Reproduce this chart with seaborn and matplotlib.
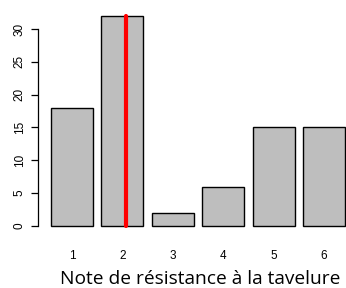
import matplotlib
matplotlib.use("Agg")
import matplotlib.pyplot as plt
import seaborn as sns
import pandas as pd

notes = ["1", "2", "3", "4", "5", "6"]
counts = [18, 32, 2, 6, 15, 15]
highlight_note = "2"
y_ticks = [0, 5, 10, 15, 20, 25, 30]
x_label = "Note de résistance à la tavelure"

sns.set_style("white", {"ytick.left": True, "axes.labelcolor": "black",
                        "text.color": "black", "xtick.color": "black",
                        "ytick.color": "black"})
plt.rcParams["font.family"] = ["Liberation Sans", "DejaVu Sans"]

df = pd.DataFrame({"note": notes, "count": counts})

W, H = 346, 288
fig = plt.figure(figsize=(W / 100, H / 100), dpi=100)
ax_left, ax_bottom_px, ax_top_px = 38, 240, 0
ax = fig.add_axes([ax_left / W, (H - ax_bottom_px) / H, 1 - ax_left / W, (ax_bottom_px - ax_top_px) / H])

sns.barplot(data=df, x="note", y="count", order=notes, color="#BEBEBE",
            saturation=1, width=1 / 1.2, edgecolor="black", linewidth=1.0, ax=ax)

# axis limits (pixel-based mapping)
pitch, c0, zero_px, px_per_unit = 50.4, 72, 226, 6.567
ax.set_xlim((ax_left - c0) / pitch, (W - c0) / pitch)
ax.set_ylim(-(ax_bottom_px - zero_px) / px_per_unit, (zero_px - ax_top_px) / px_per_unit)

# red highlight line
hx = notes.index(highlight_note) + 0.08
ax.plot([hx, hx], [0, max(counts)], color="#FF0000", lw=3.0, solid_capstyle="round", zorder=5)

for s in ["top", "right", "bottom"]:
    ax.spines[s].set_visible(False)
ax.spines["left"].set_bounds(0, 30)
ax.spines["left"].set_color("black")
ax.spines["left"].set_linewidth(0.9)
ax.set_yticks(y_ticks)
ax.set_yticklabels([str(v) for v in y_ticks], rotation=90, va="center", fontsize=8.5, color="black")
ax.tick_params(axis="y", left=True, length=4.8, width=0.9, color="black", pad=4, labelcolor="black")
ax.tick_params(axis="x", length=0, labelsize=8.5, pad=7, labelcolor="black")
ax.set_xlabel("")
ax.set_ylabel("")

fig.text(200 / W, 1 - 279 / H, x_label, ha="center", va="center",
         fontsize=13.8, color="black", family=["Open Sans", "DejaVu Sans"])

fig.savefig("out.png", dpi=100)
